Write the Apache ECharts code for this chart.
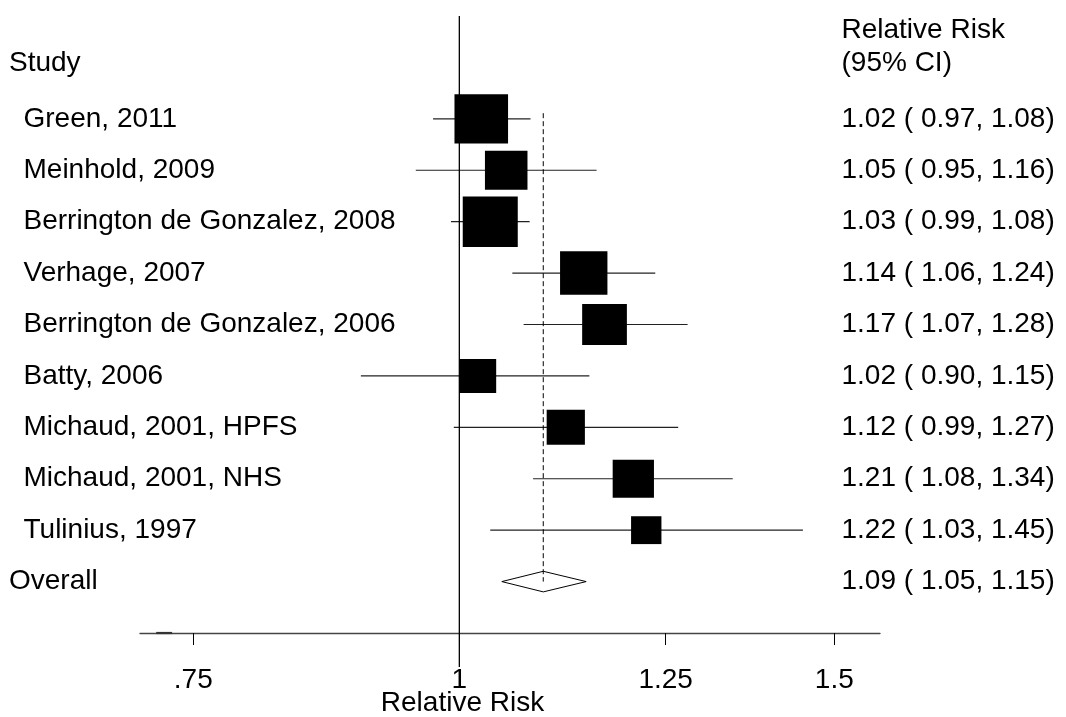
<!DOCTYPE html>
<html>
<head>
<meta charset="utf-8">
<script src="https://cdn.jsdelivr.net/npm/echarts@6/dist/echarts.min.js"></script>
<style>
html,body{margin:0;padding:0;background:#fff;}
#chart{width:1066px;height:717px;}
</style>
</head>
<body>
<div id="chart"></div>
<script>
// ---- data ----
const studies = ['Green, 2011', 'Meinhold, 2009', 'Berrington de Gonzalez, 2008', 'Verhage, 2007',
  'Berrington de Gonzalez, 2006', 'Batty, 2006', 'Michaud, 2001, HPFS', 'Michaud, 2001, NHS', 'Tulinius, 1997'];
const rr     = [1.024, 1.052, 1.034, 1.144, 1.170, 1.020, 1.122, 1.207, 1.224];
const lower  = [0.972, 0.954, 0.991, 1.059, 1.072, 0.899, 0.994, 1.083, 1.034];
const upper  = [1.080, 1.160, 1.079, 1.236, 1.280, 1.151, 1.267, 1.344, 1.450];
const weights = [16.5, 10.4, 17.4, 12.9, 11.5, 7.9, 8.4, 9.8, 5.3];
const ciText = ['1.02 ( 0.97, 1.08)', '1.05 ( 0.95, 1.16)', '1.03 ( 0.99, 1.08)', '1.14 ( 1.06, 1.24)',
  '1.17 ( 1.07, 1.28)', '1.02 ( 0.90, 1.15)', '1.12 ( 0.99, 1.27)', '1.21 ( 1.08, 1.34)', '1.22 ( 1.03, 1.45)'];
const overallName = 'Overall';
const overallRR = 1.095;
const overallLower = 1.047;
const overallUpper = 1.147;
const overallText = '1.09 ( 1.05, 1.15)';
const xTicks = [0.75, 1, 1.25, 1.5];
const xTickLabels = ['.75', '1', '1.25', '1.5'];
const nullValue = 1;
const axisStub = [0.7205, 0.733];

// ---- layout / style ----
const FONT = '"Liberation Sans", Arial, Helvetica, sans-serif';
const FS = 28;
const LEFT_HEAD_X = 9, LEFT_ROW_X = 23.5, RIGHT_X = 841.5;
const BOX_K = 12.1, BOX_ASPECT = 1.09, DIAMOND_HALF = 10.3;
const nRows = studies.length;

const rowData = studies.map((s, i) => [lower[i], upper[i], rr[i], i, weights[i]]);

const chart = echarts.init(document.getElementById('chart'), null, {renderer: 'canvas'});

function txt(x, y, s, align) {
  return {type: 'text', x: x, y: y, style: {text: s, fill: '#000', font: FS + 'px ' + FONT,
    align: align || 'left', verticalAlign: 'middle'}};
}

const option = {
  animation: false,
  backgroundColor: '#fff',
  grid: {left: 140, right: 186, top: 16, bottom: 84},
  xAxis: {
    type: 'log', logBase: 10, min: 0.708, max: 1.576,
    axisLine: {show: true, onZero: false, lineStyle: {color: '#444', width: 1.3}},
    axisTick: {show: true, customValues: xTicks, length: 12, lineStyle: {color: '#000', width: 1}},
    axisLabel: {show: true, customValues: xTicks, margin: 33, fontSize: FS, lineHeight: FS, color: '#000', fontFamily: FONT,
      formatter: function (v) {
        for (let k = 0; k < xTicks.length; k++) if (Math.abs(xTicks[k] - v) < 1e-6) return xTickLabels[k];
        return '';
      }},
    splitLine: {show: false}, minorTick: {show: false}
  },
  yAxis: {type: 'value', min: -2, max: 10, inverse: true, show: false},
  graphic: [
    txt(RIGHT_X, 30, 'Relative Risk'),
    txt(RIGHT_X, 63, '(95% CI)'),
    txt(LEFT_HEAD_X, 63, 'Study'),
    {type: 'text', x: 462.5, y: 703, style: {text: 'Relative Risk', fill: '#000', font: FS + 'px ' + FONT,
      align: 'center', verticalAlign: 'middle'}}
  ],
  series: [
    // null line and overall dashed line
    {
      type: 'custom', clip: false, silent: true, z: 3,
      data: [[nullValue]],
      renderItem: function (params, api) {
        const top = api.coord([nullValue, -2]);
        const bot = api.coord([nullValue, 10.66]);
        const dTop = api.coord([overallRR, -0.11]);
        const dBot = api.coord([overallRR, nRows]);
        const s0 = api.coord([axisStub[0], 10]);
        const s1 = api.coord([axisStub[1], 10]);
        return {type: 'group', children: [
          {type: 'line', shape: {x1: top[0], y1: top[1], x2: bot[0], y2: bot[1]}, style: {stroke: '#000', lineWidth: 1.3}},
          {type: 'line', shape: {x1: dTop[0], y1: dTop[1], x2: dBot[0], y2: dBot[1]}, style: {stroke: '#000', lineWidth: 1, lineDash: [5, 3]}},
          {type: 'line', shape: {x1: s0[0], y1: s0[1], x2: s1[0], y2: s1[1]}, style: {stroke: '#333', lineWidth: 2.2}}
        ]};
      }
    },
    // study CIs + boxes + labels
    {
      type: 'custom', clip: false, silent: true, z: 2,
      data: rowData,
      encode: {x: [0, 1, 2], y: 3},
      renderItem: function (params, api) {
        const i = params.dataIndex;
        const lo = api.coord([api.value(0), api.value(3)]);
        const hi = api.coord([api.value(1), api.value(3)]);
        const c = api.coord([api.value(2), api.value(3)]);
        const h = BOX_K * Math.sqrt(api.value(4));
        const w = h * BOX_ASPECT;
        return {type: 'group', children: [
          {type: 'line', shape: {x1: lo[0], y1: lo[1], x2: hi[0], y2: hi[1]}, style: {stroke: '#222', lineWidth: 1.2}},
          {type: 'rect', shape: {x: c[0] - w / 2, y: c[1] - h / 2, width: w, height: h}, style: {fill: '#000'}},
          txt(LEFT_ROW_X, c[1], studies[i]),
          txt(RIGHT_X, c[1], ciText[i])
        ]};
      }
    },
    // overall diamond
    {
      type: 'custom', clip: false, silent: true, z: 2,
      data: [[overallLower, overallUpper, overallRR, nRows]],
      encode: {x: [0, 1, 2], y: 3},
      renderItem: function (params, api) {
        const l = api.coord([api.value(0), api.value(3)]);
        const r = api.coord([api.value(1), api.value(3)]);
        const c = api.coord([api.value(2), api.value(3)]);
        return {type: 'group', children: [
          {type: 'polygon', shape: {points: [[l[0], l[1]], [c[0], c[1] - DIAMOND_HALF], [r[0], r[1]], [c[0], c[1] + DIAMOND_HALF]]},
            style: {fill: 'rgba(255,255,255,0)', stroke: '#000', lineWidth: 1}},
          txt(LEFT_HEAD_X, c[1], overallName),
          txt(RIGHT_X, c[1], overallText)
        ]};
      }
    }
  ]
};
chart.setOption(option);
</script>
</body>
</html>
